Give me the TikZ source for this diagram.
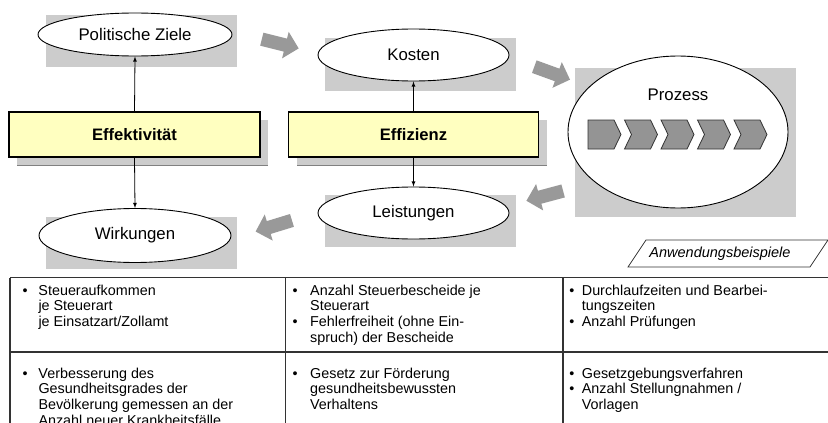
\documentclass[tikz,border=0pt]{standalone}
\usepackage{fontspec}
\setmainfont{Liberation Sans}
\usetikzlibrary{shapes.geometric,shapes.arrows}
\definecolor{backgray}{HTML}{CCCCCC}
\definecolor{arrowgray}{HTML}{999999}
\definecolor{stepgray}{HTML}{949494}
\definecolor{boxyellow}{HTML}{FFFFC0}
\definecolor{rulegray}{HTML}{333333}
\newcommand{\bul}[1]{\llap{\textbullet\hspace{#1pt}}}
\newcommand{\topline}{\rule{0pt}{11pt}}
\begin{document}
\begin{tikzpicture}[x=1pt,y=-1pt,
    oval/.style={ellipse,draw,fill=white,line width=0.9pt,inner sep=0pt,font=\fontsize{16.8}{20}\selectfont},
    measure/.style={rectangle,draw,fill=boxyellow,line width=1.1pt,minimum width=251pt,minimum height=45pt,font=\bfseries\fontsize{16.6}{20}\selectfont},
    bigarrow/.style={single arrow,fill=arrowgray,inner xsep=0pt,inner ysep=0pt,text height=6.5pt,text depth=6.5pt,minimum height=38pt,single arrow head extend=7pt},
    cell/.style={anchor=north west,align=left,inner sep=0pt,font=\fontsize{14.35}{15.6}\selectfont}]
  \useasboundingbox (0,0) rectangle (828,423);
  \clip (0,0) rectangle (828,423);
  \fill[backgray] (46,15) rectangle (237,67);
  \fill[backgray] (325,38) rectangle (516,91);
  \fill[backgray] (325,195) rectangle (516,247);
  \fill[backgray] (46,217) rectangle (237,269);
  \fill[backgray] (575,68) rectangle (796,217);
  \fill[backgray] (17,120) rectangle (268,165);
  \fill[backgray] (297,120) rectangle (547,165);
  \draw[gray,line width=0.6pt] (17,165) -- (268,165) (297,165) -- (547,165);
  \node[oval,minimum width=194pt,minimum height=43pt] (ziele) at (135,34.5) {Politische Ziele};
  \node[oval,minimum width=191pt,minimum height=52pt] (kosten) at (413.5,55) {Kosten};
  \node[oval,minimum width=191pt,minimum height=52pt] (leistungen) at (413.5,213) {Leistungen};
  \node[oval,minimum width=192pt,minimum height=54pt] (wirkungen) at (135,235.5) {Wirkungen};
  \node[oval,minimum width=220pt,minimum height=152pt] (prozess) at (678,132) {};
  \node[font=\fontsize{16.8}{20}\selectfont] (prozesstitel) at (678,95) {Prozess};
  \filldraw[fill=stepgray,draw=rulegray,line width=0.8pt] (588,120) -- (614,120) -- (621,134.5) -- (614,149) -- (588,149) -- cycle;
  \foreach \x in {624.5,661,697.5,734}
    \filldraw[fill=stepgray,draw=rulegray,line width=0.8pt] (\x,120) -- (\x+26,120) -- (\x+33,134.5) -- (\x+26,149) -- (\x,149) -- (\x+7,134.5) -- cycle;
  \node[measure] (effektiv) at (134.5,134.5) {Effektivität};
  \node[measure,minimum width=250pt] (effizienz) at (413.5,134.5) {Effizienz};
  \draw[-latex,line width=0.8pt] (effektiv.north) -- (ziele.south);
  \draw[-latex,line width=0.8pt] (effektiv.south) -- (wirkungen.north);
  \draw[-latex,line width=0.8pt] (effizienz.north) -- (kosten.south);
  \draw[-latex,line width=0.8pt] (effizienz.south) -- (leistungen.north);
  \node[bigarrow,rotate=-14] (pfeil1) at (277,43) {};
  \node[bigarrow,rotate=-20] (pfeil2) at (549,72) {};
  \node[bigarrow,rotate=195] (pfeil3) at (548,195) {};
  \node[bigarrow,rotate=197] (pfeil4) at (277,225) {};
  \draw[rulegray,line width=0.8pt] (628,267) -- (646,240) -- (828,240) -- (810,267) -- cycle;
  \node[font=\itshape\fontsize{14.5}{17}\selectfont] (beispiele) at (720,253.5) {Anwendungsbeispiele};
  \draw[rulegray,line width=1.5pt] (10,277.5) -- (828,277.5) (10,352) -- (828,352)
    (10,277.5) -- (10,423) (285.5,277.5) -- (285.5,423) (563,277.5) -- (563,423);
  \node[cell] (zelle11) at (38.3,284) {\bul{10.8}\topline Steueraufkommen\\je Steuerart\\je Einsatzart/Zollamt};
  \node[cell] (zelle12) at (310,284) {\bul{12.5}\topline Anzahl Steuerbescheide je\\Steuerart\\\bul{12.5}Fehlerfreiheit (ohne Ein-\\spruch) der Bescheide};
  \node[cell] (zelle13) at (581.7,284) {\bul{7.5}\topline Durchlaufzeiten und Bearbei-\\tungszeiten\\\bul{7.5}Anzahl Prüfungen};
  \node[cell] (zelle21) at (38.3,367) {\bul{10.8}\topline Verbesserung des\\Gesundheitsgrades der\\Bevölkerung gemessen an der\\Anzahl neuer Krankheitsfälle};
  \node[cell] (zelle22) at (310,367) {\bul{12.5}\topline Gesetz zur Förderung\\gesundheitsbewussten\\Verhaltens};
  \node[cell] (zelle23) at (581.7,367) {\bul{7.5}\topline Gesetzgebungsverfahren\\\bul{7.5}Anzahl Stellungnahmen /\\Vorlagen};
\end{tikzpicture}
\end{document}
